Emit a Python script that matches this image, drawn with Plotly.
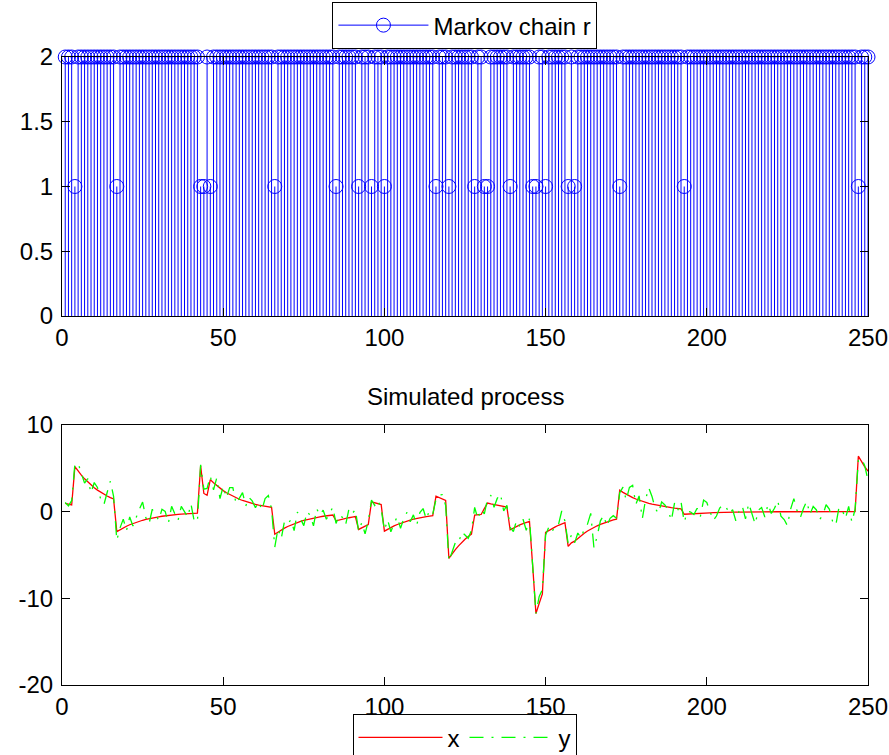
import plotly.graph_objects as go

t = list(range(1, 251))

markov_r = [
    2,2,2,1,2, 2,2,2,2,2, 2,2,2,2,2, 2,1,2,2,2, 2,2,2,2,2,   # 1-25
    2,2,2,2,2, 2,2,2,2,2, 2,2,2,2,2, 2,2,1,1,2, 1,2,2,2,2,   # 26-50
    2,2,2,2,2, 2,2,2,2,2, 2,2,2,2,2, 1,2,2,2,2, 2,2,2,2,2,   # 51-75
    2,2,2,2,2, 2,2,2,2,1, 2,2,2,2,2, 2,1,2,2,2, 1,2,2,2,1,   # 76-100
    2,2,2,2,2, 2,2,2,2,2, 2,2,2,2,2, 1,2,2,2,1, 2,2,2,2,2,   # 101-125
    2,2,1,2,2, 1,1,2,2,2, 2,2,2,1,2, 2,2,2,2,2, 1,1,2,2,1,   # 126-150
    2,2,2,2,2, 2,1,2,1,2, 2,2,2,2,2, 2,2,2,2,2, 2,2,1,2,2,   # 151-175
    2,2,2,2,2, 2,2,2,2,2, 2,2,2,2,2, 2,2,1,2,2, 2,2,2,2,2,   # 176-200
    2,2,2,2,2, 2,2,2,2,2, 2,2,2,2,2, 2,2,2,2,2, 2,2,2,2,2,   # 201-225
    2,2,2,2,2, 2,2,2,2,2, 2,2,2,2,2, 2,2,2,2,2, 2,1,2,2,2,   # 226-250
]

x_state = [
    0.95, 0.86, 0.77, 5.2, 4.68, 4.21, 3.79, 3.41, 3.07, 2.76,
    2.49, 2.24, 2.01, 1.81, 1.63, 1.47, -2.3, -2.07, -1.86, -1.68,
    -1.51, -1.36, -1.22, -1.10, -0.99, -0.89, -0.80, -0.72, -0.65, -0.59,
    -0.53, -0.47, -0.43, -0.38, -0.34, -0.31, -0.28, -0.25, -0.23, -0.20,
    -0.18, -0.17, 5.3, 2.1, 1.89, 3.7, 3.33, 3.00, 2.70, 2.43,
    2.18, 1.97, 1.77, 1.59, 1.43, 1.29, 1.16, 1.04, 0.94, 0.85,
    0.76, 0.68, 0.62, 0.56, 0.50, -2.6, -2.34, -2.11, -1.90, -1.71,
    -1.54, -1.38, -1.24, -1.12, -1.01, -0.91, -0.82, -0.73, -0.66, -0.59,
    -0.53, -0.48, -0.43, -0.39, -1.06, -0.95, -0.86, -0.77, -0.70, -0.63,
    -0.56, -2.05, -1.85, -1.66, -1.49, 1.13, 1.02, 0.92, 0.82, -2.25,
    -2.03, -1.82, -1.64, -1.48, -1.33, -1.20, -1.08, -0.97, -0.87, -0.78,
    -0.71, -0.64, -0.57, -0.51, -0.46, 1.8, 1.62, 1.46, 1.31, -5.4,
    -4.86, -4.37, -3.94, -3.54, -3.19, -2.87, -2.58, -0.4, -0.36, -0.32,
    0.35, 1.0, 0.90, 0.81, 0.73, 0.66, 0.59, 0.53, -2.1, -1.89,
    -1.70, -1.53, -1.38, -1.24, -1.12, -6.3, -11.75, -10.6, -9.5, -2.4,
    -2.16, -1.94, -1.75, -1.57, -1.42, -1.28, -4.0, -3.6, -3.4, -3.06,
    -2.75, -2.48, -2.23, -2.01, -1.81, -1.63, -1.46, -1.32, -1.18, -1.07,
    -0.96, -0.86, 2.48, 2.23, 2.01, 1.81, 1.63, 1.46, 1.32, 1.19,
    1.07, 0.96, 0.86, 0.78, 0.70, 0.63, 0.57, 0.51, 0.46, 0.41,
    0.37, 0.33, -0.3, -0.27, -0.24, -0.22, -0.20, -0.18, -0.16, -0.14,
    -0.13, -0.12, -0.10, -0.09, -0.08, -0.07, -0.07, -0.06, -0.05, -0.05,
    -0.04, -0.04, -0.03, -0.03, -0.03, -0.02, -0.02, -0.02, -0.02, -0.01,
    -0.01, -0.01, -0.01, -0.01, -0.01, 0.0, 0.0, 0.0, 0.0, 0.0,
    0.0, 0.0, 0.0, 0.0, 0.0, 0.0, 0.0, 0.0, 0.0, 0.0,
    0.0, 0.0, 0.0, 0.0, 0.0, 0.0, 6.4, 5.76, 5.18, 4.67,
]

y_obs = [
    1.05, 0.66, 1.27, 5.5, 5.58, 4.41, 3.29, 3.81, 2.17, 3.36,
    2.79, 1.44, 0.81, 2.21, 3.53, 1.77, -3.3, -1.87, -0.86, -2.18,
    -0.61, -1.66, -0.62, 0.3, 1.11, -0.69, -1.4, 0.28, -0.35, -0.99,
    0.27, 0.03, -1.33, 0.62, -0.24, -1.01, 0.62, 0.05, -0.63, 0.9,
    -1.08, -1.17, 5.4, 2.6, 2.69, 4.1, 2.53, 3.9, 1.5, 2.93,
    1.58, 2.77, 2.77, 0.89, 1.63, 2.19, 0.66, 1.64, 1.24, 0.45,
    1.16, 0.18, 1.52, 1.86, 0.3, -4.1, -1.94, -3.11, -1.1, -1.41,
    -0.94, -2.18, -0.04, -0.82, -1.61, -0.01, -0.42, -1.63, 0.34, -0.39,
    0.17, -0.88, -0.13, 0.51, -1.36, -0.35, -0.66, -1.47, 0.3, -0.23,
    0.24, -2.25, -1.25, -2.56, -1.09, 1.33, 0.72, 1.32, 0.32, -2.15,
    -0.93, -2.32, -1.34, -0.58, -1.93, -0.8, -0.08, -1.17, -0.37, -1.58,
    -0.11, 0.36, -0.87, 0.19, -0.26, 1.4, 1.92, 1.96, 0.71, -5.7,
    -4.66, -3.57, -3.64, -2.34, -2.69, -3.07, -2.18, 0.5, -0.86, 0.28,
    -0.25, 1.5, 1.9, 0.51, 1.53, 2.06, 0.09, 0.73, -1.8, -2.29,
    -1.0, -1.73, -0.88, -2.14, -0.82, -6.1, -11.75, -9.8, -9.0, -2.7,
    -1.76, -2.34, -1.55, -1.47, 0.08, -1.08, -3.7, -2.7, -3.6, -2.46,
    -3.05, -1.98, -1.43, -0.2, -4.2, -2.83, -1.06, -0.42, -1.68, -0.77,
    -0.46, -0.76, 2.18, 2.83, 1.31, 2.81, 3.03, 0.86, 1.82, -0.81,
    1.37, 2.76, 1.76, 0.38, -0.2, 1.13, 0.77, 0.21, -1.04, 1.01,
    0.17, 1.13, -1.2, 0.03, -0.04, -0.32, 0.4, -0.58, 1.34, 1.06,
    0.07, -1.02, -0.5, 0.41, 0.82, 0.53, -0.27, 0.24, -1.05, 0.05,
    0.66, -0.84, 0.97, -0.33, -1.43, 0.18, 0.48, -0.62, 0.88, -0.21,
    0.39, 1.29, -0.51, -0.91, -1.61, 0.3, 1.5, 0.1, -0.7, 0.4,
    1.2, -0.3, 0.6, 0.2, -0.9, -0.4, 0.8, 0.3, -1.1, -1.6,
    0.5, 0.2, -0.8, 0.6, -1.2, 0.3, 5.9, 6.16, 5.28, 3.6,
]

x_ticks = [0, 50, 100, 150, 200, 250]
top_y_ticks = [0, 0.5, 1, 1.5, 2]
top_y_text = ["0", "0.5", "1", "1.5", "2"]
bot_y_ticks = [-20, -10, 0, 10]
bot_y_text = ["-20", "-10", "0", "10"]

FONT = "Liberation Sans, Arial, Helvetica, sans-serif"
FS = 24

# stems
sx, sy = [], []
for ti, ri in zip(t, markov_r):
    sx += [ti, ti, None]
    sy += [0, ri, None]

fig = go.Figure()
fig.add_trace(go.Scatter(x=sx, y=sy, mode="lines", line=dict(color="#0000ff", width=1),
                         showlegend=False, hoverinfo="skip", xaxis="x", yaxis="y"))
fig.add_trace(go.Scatter(x=t, y=markov_r, mode="markers",
                         marker=dict(symbol="circle-open", size=14, color="#0000ff",
                                     line=dict(width=1, color="#0000ff")),
                         showlegend=False, cliponaxis=False, xaxis="x", yaxis="y"))
fig.add_trace(go.Scatter(x=[None], y=[None], mode="lines+markers", name="Markov chain r",
                         line=dict(color="#0000ff", width=1),
                         marker=dict(symbol="circle-open", size=14, color="#0000ff"),
                         legend="legend", xaxis="x", yaxis="y"))

fig.add_trace(go.Scatter(x=t, y=x_state, mode="lines", name="x",
                         line=dict(color="#ff0000", width=1.3),
                         legend="legend2", xaxis="x2", yaxis="y2"))
fig.add_trace(go.Scatter(x=t, y=y_obs, mode="lines", name="y",
                         line=dict(color="#00ff00", width=1.3, dash="14px,8px,2px,8px"),
                         legend="legend2", xaxis="x2", yaxis="y2"))

axis_common = dict(showline=True, linecolor="black", linewidth=1, mirror="ticks",
                   ticks="inside", ticklen=8, tickcolor="black", showgrid=False,
                   zeroline=False, automargin=False,
                   tickfont=dict(family=FONT, size=FS, color="black"))

fig.update_layout(
    width=889, height=755,
    margin=dict(l=62, r=21, t=57, b=70),
    paper_bgcolor="white", plot_bgcolor="white",
    font=dict(family=FONT, size=FS, color="black"),
    xaxis=dict(domain=[0, 1], range=[0, 250], tickvals=x_ticks, anchor="y", **axis_common),
    yaxis=dict(domain=[0.5876, 1], range=[0, 2], tickvals=top_y_ticks, ticktext=top_y_text,
               anchor="x", ticklabelstandoff=3, **axis_common),
    xaxis2=dict(domain=[0, 1], range=[0, 250], tickvals=x_ticks, anchor="y2", **axis_common),
    yaxis2=dict(domain=[0, 0.414], range=[-20, 10], tickvals=bot_y_ticks, ticktext=bot_y_text,
                anchor="x2", ticklabelstandoff=3, **axis_common),
    legend=dict(xref="container", yref="container", x=0.523, xanchor="center",
                y=0.9973, yanchor="top", orientation="h",
                bordercolor="black", borderwidth=1, bgcolor="white", itemwidth=90,
                font=dict(family=FONT, size=FS, color="black")),
    legend2=dict(xref="container", yref="container", x=0.5225, xanchor="center",
                 y=0.054, yanchor="top", orientation="h",
                 bordercolor="black", borderwidth=1, bgcolor="white", itemwidth=84,
                 font=dict(family=FONT, size=FS, color="black")),
    annotations=[dict(text="Simulated process", x=0.5, xref="paper", y=0.4586, yref="paper",
                      xanchor="center", yanchor="middle", showarrow=False,
                      font=dict(family=FONT, size=FS, color="black"))],
)

fig.write_html("out.html", config={"displayModeBar": False},
               post_script="document.body.style.margin='0';document.body.style.overflow='hidden';")
